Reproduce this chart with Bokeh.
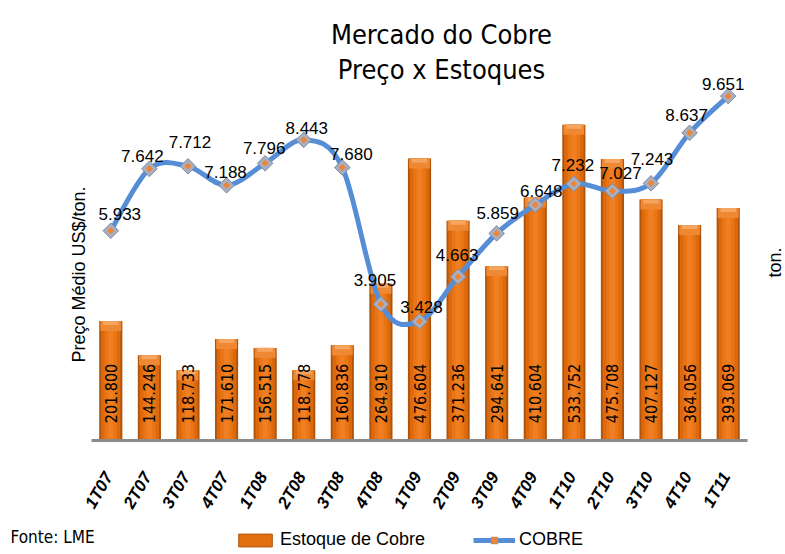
import math
import numpy as np
from bokeh.plotting import figure
from bokeh.models import (ColumnDataSource, Range1d, LabelSet, Legend, LegendItem, Label)
from bokeh.core.properties import value
from bokeh.embed import file_html
from bokeh.resources import INLINE

# ---------------- data ----------------
categories = ["1T07", "2T07", "3T07", "4T07", "1T08", "2T08", "3T08", "4T08", "1T09",
              "2T09", "3T09", "4T09", "1T10", "2T10", "3T10", "4T10", "1T11"]
stocks = [201800, 144246, 118733, 171610, 156515, 118778, 160836, 264910, 476604,
          371236, 294641, 410604, 533752, 475708, 407127, 364056, 393069]
prices = [5.933, 7.642, 7.712, 7.188, 7.796, 8.443, 7.680, 3.905, 3.428,
          4.663, 5.859, 6.648, 7.232, 7.027, 7.243, 8.637, 9.651]

# label placement (pixel offsets from each price marker)
price_label_dx = [9, -7, 2, -1, -1, 3, 9, -6, 2, -1, 1, 6, -1, 8, 1, -3, -5]
price_label_dy = [17, 13, 24, 13, 15, 12, 13, 24, 14, 22, 20, 14, 19, 18, 24, 18, 12]

# ---------------- geometry (page pixels) ----------------
W, H = 785, 554
OFF = 0
PAGE_R, PAGE_B = OFF + W, OFF + H
PL, PR, PB = 91, 747, 440          # plot area: left, right, baseline
PX_PER_PRICE = 36.2
PRICE_ZERO_Y = 445
STOCK_PER_PX = 1690.0
LINE_BLUE = "#558ed6"
BAR_DARK = "#b0540b"
BAR_MID = "#e3700f"
MK_FILL, MK_LINE, MK_CORE = "#a7b0c3", "#7f8aa0", "#ee8536"

n = len(categories)
xs = list(range(n))
x_lo, x_hi = -0.5, n - 0.5
px_per_x = (PR - PL) / (x_hi - x_lo)


def to_x(ix):
    return x_lo + (ix - PL) / px_per_x


def to_stock(iy):
    return (PB - iy) * STOCK_PER_PX


def to_price(iy):
    return (PRICE_ZERO_Y - iy) / PX_PER_PRICE


p = figure(width=W, height=H, output_backend="svg", toolbar_location=None,
           x_range=Range1d(to_x(OFF), to_x(PAGE_R)),
           y_range=Range1d(to_price(PAGE_B), to_price(OFF)),
           x_axis_location=None, y_axis_location=None, title=None,
           min_border=0, min_border_left=0, min_border_right=0,
           min_border_top=0, min_border_bottom=0)
p.extra_y_ranges = {"stock": Range1d(to_stock(PAGE_B), to_stock(OFF))}
p.outline_line_color = None
p.xgrid.visible = False
p.ygrid.visible = False
p.background_fill_color = "white"
p.border_fill_color = "white"

# ---------------- bars ----------------
bar_src = ColumnDataSource(dict(
    x=xs,
    stock=stocks,
    cap_bottom=[s - 10 * STOCK_PER_PX for s in stocks],
    cap2_bottom=[s - 4 * STOCK_PER_PX for s in stocks],
    lbl=[f"{s:,}".replace(",", ".") for s in stocks],
    lbl_y=[to_stock(393)] * n,
))

p.vbar(x="x", top="stock", bottom=0, width=0.60, source=bar_src, y_range_name="stock",
       fill_color=BAR_DARK, line_color=None)
p.vbar(x="x", top="stock", bottom=0, width=0.50, source=bar_src, y_range_name="stock",
       fill_color="#dc690d", line_color=None)
p.vbar(x="x", top="stock", bottom=0, width=0.32, source=bar_src, y_range_name="stock",
       fill_color="#ea7513", line_color=None)
p.vbar(x="x", top="stock", bottom=0, width=0.14, source=bar_src, y_range_name="stock",
       fill_color="#ef7f22", line_color=None)
p.vbar(x="x", top="stock", bottom="cap_bottom", width=0.54, source=bar_src,
       y_range_name="stock", fill_color="#ef8833", line_color=None)
p.vbar(x="x", top="stock", bottom="cap2_bottom", width=0.40, source=bar_src,
       y_range_name="stock", fill_color="#f5a560", line_color=None)

p.add_layout(LabelSet(x="x", y="lbl_y", text="lbl", source=bar_src, y_range_name="stock",
                      angle=math.pi / 2, text_align="center", text_baseline="middle",
                      text_font=value("DejaVu Sans Condensed"), text_font_size="16px",
                      text_color="black"))

# category axis: baseline + rotated category labels
p.segment(x0=[x_lo], y0=[0], x1=[x_hi], y1=[0], y_range_name="stock",
          line_color="#8c8c8c", line_width=3)
cat_src = ColumnDataSource(dict(x=xs, cat=categories, y=[to_stock(473)] * n))
p.add_layout(LabelSet(x="x", y="y", text="cat", source=cat_src, y_range_name="stock",
                      x_offset=-2, angle=math.pi / 3, text_align="right",
                      text_baseline="middle", text_font=value("Liberation Sans"),
                      text_font_style="bold italic", text_font_size="17px",
                      text_color="black"))

# ---------------- smooth price line ----------------
xa = np.array(xs, dtype=float)
ya = np.array(prices, dtype=float)
x0, y0, x1, y1, cx0, cy0, cx1, cy1 = ([] for _ in range(8))
for i in range(n - 1):
    prv = max(i - 1, 0)
    nxt = min(i + 2, n - 1)
    x0.append(xa[i]); y0.append(ya[i])
    x1.append(xa[i + 1]); y1.append(ya[i + 1])
    cx0.append(xa[i] + (xa[i + 1] - xa[prv]) / 6.0)
    cy0.append(ya[i] + (ya[i + 1] - ya[prv]) / 6.0)
    cx1.append(xa[i + 1] - (xa[nxt] - xa[i]) / 6.0)
    cy1.append(ya[i + 1] - (ya[nxt] - ya[i]) / 6.0)

p.bezier(x0=x0, y0=y0, x1=x1, y1=y1, cx0=cx0, cy0=cy0, cx1=cx1, cy1=cy1,
         line_color=LINE_BLUE, line_width=5, line_cap="round")

price_src = ColumnDataSource(dict(
    x=xs, price=prices,
    lbl=[f"{v:.3f}" for v in prices],
    dx=price_label_dx, dy=price_label_dy,
))
p.scatter(x="x", y="price", source=price_src, marker="square", angle=math.pi / 4,
          size=11, fill_color=MK_FILL, line_color=MK_LINE, line_width=1)
p.scatter(x="x", y="price", source=price_src, marker="square", angle=math.pi / 4,
          size=5, fill_color=MK_CORE, line_color=None)

p.add_layout(LabelSet(x="x", y="price", text="lbl", source=price_src,
                      x_offset="dx", y_offset="dy",
                      text_align="center", text_baseline="middle",
                      text_font=value("Liberation Sans"), text_font_size="17px",
                      text_color="black"))

# ---------------- texts ----------------
def add_text(ix, iy, text, font, size, align="center", baseline="alphabetic", angle=0.0):
    p.add_layout(Label(x=to_x(ix), y=to_stock(iy), y_range_name="stock", text=text,
                       text_font=font, text_font_size=size, text_align=align,
                       text_baseline=baseline, angle=angle, text_color="black"))


add_text(441, 34, "Mercado do Cobre", "DejaVu Sans Condensed", "27px")
add_text(441, 69, "Preço x Estoques", "DejaVu Sans Condensed", "27px")
add_text(78, 274, "Preço Médio US$/ton.", "Liberation Sans", "18px",
         baseline="middle", angle=math.pi / 2)
add_text(774, 262, "ton.", "Liberation Sans", "18px", baseline="middle", angle=math.pi / 2)
add_text(10, 536, "Fonte: LME", "DejaVu Sans Condensed", "17px", align="left")

# ---------------- legend ----------------
nan = np.array([np.nan])
leg_bar = p.vbar(x=nan, top=nan, bottom=nan, width=0.6, y_range_name="stock",
                 fill_color=BAR_MID, line_color=BAR_DARK)
leg_line = p.line(x=nan, y=nan, line_color=LINE_BLUE, line_width=5)
leg_mk1 = p.scatter(x=nan, y=nan, marker="square", angle=math.pi / 4, size=11,
                    fill_color=MK_FILL, line_color=MK_LINE)
leg_mk2 = p.scatter(x=nan, y=nan, marker="square", angle=math.pi / 4, size=5,
                    fill_color=MK_CORE, line_color=None)

legend = Legend(items=[LegendItem(label="Estoque de Cobre", renderers=[leg_bar]),
                       LegendItem(label="COBRE", renderers=[leg_line, leg_mk1, leg_mk2])],
                location=(234 - OFF, PAGE_B - 550), orientation="horizontal",
                glyph_width=42, glyph_height=16, label_standoff=4, spacing=48,
                padding=0, margin=0, border_line_color=None, background_fill_alpha=0,
                label_text_font="Liberation Sans", label_text_font_size="18px",
                label_text_color="black", label_height=18)
p.add_layout(legend, "center")

open("out.html", "w").write(file_html(p, INLINE))
